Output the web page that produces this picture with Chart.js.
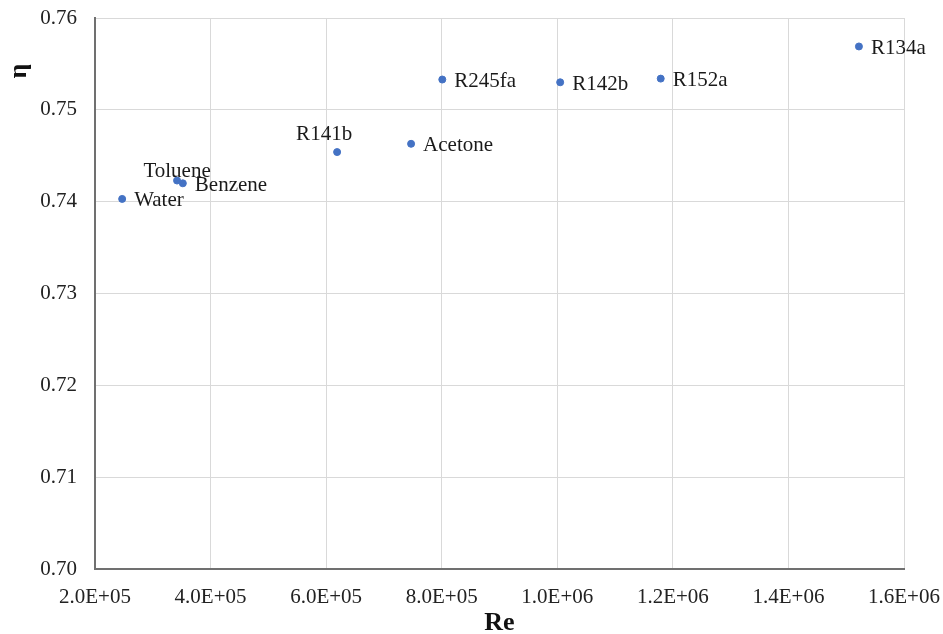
<!DOCTYPE html>
<html>
<head>
  <meta charset="UTF-8">
  <title>η vs Re</title>
  <script src="https://cdn.jsdelivr.net/npm/chart.js"></script>
  <style>
    html, body { margin: 0; padding: 0; background: #fff; }
    #wrap { width: 943px; height: 634px; }
  </style>
</head>
<body>
  <div id="wrap"><canvas id="grafico" width="943" height="634"></canvas></div>

  <script>
    const fluids = ["Water", "Toluene", "Benzene", "R141b", "Acetone", "R245fa", "R142b", "R152a", "R134a"];
    const reValues = [2.47e5, 3.42e5, 3.52e5, 6.19e5, 7.47e5, 8.01e5, 1.005e6, 1.179e6, 1.522e6];
    const etaValues = [0.7403, 0.7423, 0.7420, 0.7454, 0.7463, 0.7533, 0.7530, 0.7534, 0.7569];
    const xTicks = [2e5, 4e5, 6e5, 8e5, 1e6, 1.2e6, 1.4e6, 1.6e6];
    const yTicks = [0.70, 0.71, 0.72, 0.73, 0.74, 0.75, 0.76];
    // where each label sits relative to its point
    const labelPos = ["right", "above-left", "right", "above", "right", "right", "right", "right", "right"];

    const serif = "'Liberation Serif', 'Times New Roman', serif";

    function sci(v) {
      const e = Math.floor(Math.log10(v) + 1e-9);
      const m = v / Math.pow(10, e);
      return m.toFixed(1) + "E+" + String(e).padStart(2, "0");
    }

    const pointLabels = {
      id: 'pointLabels',
      afterDatasetsDraw(chart) {
        const ctx = chart.ctx;
        const meta = chart.getDatasetMeta(0);
        ctx.save();
        ctx.font = "21px " + serif;
        ctx.fillStyle = "#1a1a1a";
        meta.data.forEach((pt, i) => {
          const pos = labelPos[i];
          if (pos === "right") {
            ctx.textAlign = "left"; ctx.textBaseline = "middle";
            ctx.fillText(fluids[i], pt.x + 12, pt.y + 2);
          } else if (pos === "above") {
            ctx.textAlign = "center"; ctx.textBaseline = "bottom";
            ctx.fillText(fluids[i], pt.x - 13, pt.y - 7);
          } else {
            ctx.textAlign = "center"; ctx.textBaseline = "bottom";
            ctx.fillText(fluids[i], pt.x, pt.y + 1);
          }
        });
        // y axis title, near the top like the original
        ctx.font = "bold 26px " + serif;
        ctx.fillStyle = "#111";
        ctx.translate(19, 71);
        ctx.rotate(-Math.PI / 2);
        ctx.textAlign = "center"; ctx.textBaseline = "middle";
        ctx.fillText("η", 0, 0);
        ctx.restore();
      }
    };

    const ctx = document.getElementById('grafico').getContext('2d');
    new Chart(ctx, {
      type: 'scatter',
      data: {
        datasets: [{
          data: reValues.map((x, i) => ({ x, y: etaValues[i] })),
          backgroundColor: '#4472C4',
          borderColor: '#4472C4',
          pointRadius: 3.5,
          pointHoverRadius: 3.5
        }]
      },
      options: {
        responsive: false,
        animation: false,
        layout: { padding: { top: 18, right: 39, left: 0, bottom: 0 } },
        plugins: { legend: { display: false }, tooltip: { enabled: false } },
        scales: {
          x: {
            type: 'linear',
            min: 2e5, max: 1.6e6,
            afterBuildTicks: (s) => { s.ticks = xTicks.map(v => ({ value: v })); },
            afterFit: (s) => { s.height = 65; s.paddingLeft = 0; s.paddingRight = 0; },
            ticks: {
              callback: (v) => sci(v),
              color: '#222',
              font: { family: serif, size: 21 },
              maxRotation: 0,
              padding: 16
            },
            grid: { color: '#d9d9d9', lineWidth: 1, drawTicks: false },
            border: { color: '#707070', width: 2 },
            title: {
              display: true, text: 'Re', color: '#111',
              font: { family: serif, size: 26, weight: 'bold' },
              padding: { top: 0, bottom: -5 }
            }
          },
          y: {
            min: 0.70, max: 0.76,
            afterBuildTicks: (s) => { s.ticks = yTicks.map(v => ({ value: v })); },
            afterFit: (s) => { s.width = 95; s.paddingTop = 0; s.paddingBottom = 0; },
            ticks: {
              callback: (v) => v.toFixed(2),
              color: '#222',
              font: { family: serif, size: 21 },
              padding: 18
            },
            grid: { color: '#d9d9d9', lineWidth: 1, drawTicks: false },
            border: { color: '#707070', width: 2 }
          }
        }
      },
      plugins: [pointLabels]
    });
  </script>
</body>
</html>
